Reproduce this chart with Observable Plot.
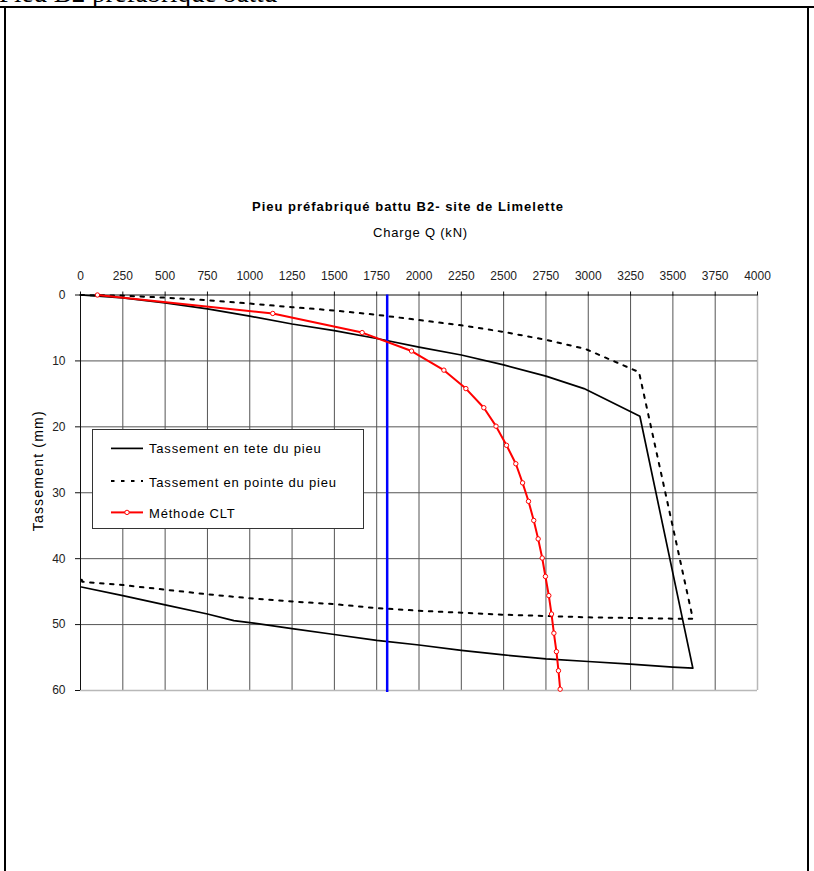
<!DOCTYPE html>
<html><head><meta charset="utf-8">
<script src="https://cdn.jsdelivr.net/npm/d3@7"></script>
<script src="https://cdn.jsdelivr.net/npm/@observablehq/plot@0.6"></script>
<style>
html,body{margin:0;padding:0;background:#fff;}
#page{position:relative;width:814px;height:871px;overflow:hidden;font-family:"Liberation Sans",Arial,sans-serif;}
.border{position:absolute;background:#000;}
#doc-title{position:absolute;left:-1px;top:-20px;font-size:27px;line-height:27px;font-family:"Liberation Serif","Times New Roman",serif;white-space:nowrap;}
#chart{position:absolute;left:0;top:0;}
#legend{position:absolute;left:92px;top:429px;width:272px;height:100px;box-sizing:border-box;border:1px solid #333;background:#fff;}
</style></head><body>
<div id="page">
 <div id="doc-title">Pieu B2 préfabriqué battu</div>
 <div id="chart"></div>
 <div class="border" style="left:0;top:6px;width:814px;height:2px"></div>
 <div class="border" style="left:4px;top:6px;width:2px;height:865px"></div>
 <div class="border" style="left:807px;top:6px;width:2px;height:865px"></div>
 <div id="legend"></div>
</div>
<script>
const chartTitle = "Pieu préfabriqué battu B2- site de Limelette";
const xLabel = "Charge Q (kN)";
const yLabel = "Tassement (mm)";
const seriesNames = ["Tassement en tete du pieu", "Tassement en pointe du pieu", "Méthode CLT"];

const xTicks = [0,250,500,750,1000,1250,1500,1750,2000,2250,2500,2750,3000,3250,3500,3750,4000];
const yTicks = [0,10,20,30,40,50,60];

// Tassement en tete du pieu (load then unload)
const headLoad =   [0,250,500,750,1000,1250,1500,1750,2000,2250,2500,2750,2975,3305,3618,3500,3250,3000,2750,2500,2250,2000,1750,1500,1250,1000,906,750,500,250,5];
const headSettle = [0,0.45,1.2,2.1,3.2,4.4,5.4,6.6,7.9,9.1,10.6,12.3,14.2,18.4,56.6,56.45,56.0,55.6,55.2,54.6,53.9,53.1,52.4,51.5,50.6,49.7,49.4,48.4,47.0,45.6,44.3];

// Tassement en pointe du pieu (load then unload)
const tipLoad =   [0,250,500,750,1000,1250,1500,1750,2000,2250,2500,2750,2985,3300,3618,3500,3250,3000,2750,2500,2250,2000,1750,1500,1250,1000,750,500,250,10,5];
const tipSettle = [0,0.1,0.4,0.8,1.3,1.85,2.35,3.0,3.8,4.6,5.6,6.8,8.2,11.7,49.1,49.1,49.0,48.9,48.7,48.5,48.2,47.9,47.5,46.9,46.5,46.0,45.4,44.7,44.0,43.5,42.9];

// Méthode CLT
const cltLoad =   [100,1136,1664,1956,2147,2277,2383,2455,2517,2572,2612,2647,2678,2704,2728,2747,2767,2783,2797,2812,2824,2834];
const cltSettle = [0,2.8,5.7,8.5,11.4,14.2,17.1,19.9,22.8,25.6,28.5,31.3,34.2,37.0,39.9,42.7,45.6,48.4,51.3,54.1,57.0,59.8];

// Charge limite (vertical blue line)
const limitLoad = [1812];

const head = headLoad.map((q, i) => ({q, s: headSettle[i]}));
const tip = tipLoad.map((q, i) => ({q, s: tipSettle[i]}));
const clt = cltLoad.map((q, i) => ({q, s: cltSettle[i]}));

const plot = Plot.plot({
  width: 814, height: 871,
  marginLeft: 80, marginRight: 57, marginTop: 294.5, marginBottom: 181,
  style: {fontFamily: '"Liberation Sans", Arial, sans-serif', fontSize: "12px", color: "#222", background: "transparent", overflow: "visible"},
  x: {domain: [0, 4000], axis: null},
  y: {domain: [0, 60], reverse: true, axis: null},
  marks: [
    Plot.ruleX(xTicks.filter(d => d > 0 && d < 4000), {stroke: "#555", strokeWidth: 1}),
    Plot.ruleX([xTicks[xTicks.length - 1]], {stroke: "#b8b8b8", strokeWidth: 1.5}),
    Plot.ruleY(yTicks.filter(d => d > 0 && d < 60), {stroke: "#555", strokeWidth: 1}),
    Plot.ruleY([yTicks[yTicks.length - 1]], {stroke: "#b8b8b8", strokeWidth: 1.5}),
    Plot.ruleX([0], {stroke: "#111", strokeWidth: 1}),
    Plot.ruleY([0], {stroke: "#111", strokeWidth: 1}),
    Plot.axisX({anchor: "top", ticks: xTicks, tickSize: 4, tickPadding: 11.5, tickFormat: d => String(d), label: null, stroke: "#111", fontSize: 12, fill: "#222"}),
    Plot.axisY({anchor: "left", ticks: yTicks, tickSize: 5, tickPadding: 10, tickFormat: d => String(d), label: null, stroke: "#111", fontSize: 12, fill: "#222"}),
    Plot.line(tip, {x: "q", y: "s", stroke: "#000", strokeWidth: 2, strokeDasharray: "3.5,6.5"}),
    Plot.line(head, {x: "q", y: "s", stroke: "#000", strokeWidth: 1.7}),
    Plot.ruleX(limitLoad, {y1: 0, y2: 60.3, stroke: "#0000ff", strokeWidth: 2.5}),
    Plot.line(clt, {x: "q", y: "s", stroke: "#ff0000", strokeWidth: 2}),
    Plot.dot(clt, {x: "q", y: "s", r: 2.2, fill: "#fff", stroke: "#ff0000", strokeWidth: 1}),
    Plot.text([chartTitle], {frameAnchor: "top", dx: -11, dy: -84.5, lineAnchor: "bottom", fontWeight: "bold", fontSize: 13, fill: "#000"}),
    Plot.text([xLabel], {frameAnchor: "top", dx: 1.5, dy: -57.8, lineAnchor: "bottom", fontSize: 13, fill: "#000"}),
    Plot.text([yLabel], {frameAnchor: "left", dx: -38, dy: -22, rotate: -90, textAnchor: "middle", lineAnchor: "bottom", fontSize: 14, fill: "#000"})
  ]
});
document.getElementById("chart").appendChild(plot);
d3.select(plot).selectAll('g[aria-label="text"] text').style("letter-spacing", "0.8px");
d3.select(plot).selectAll('g[aria-label="text"] text').filter(function() { return this.textContent === chartTitle; }).style("letter-spacing", "1px");
d3.select(plot).selectAll('g[aria-label="text"] text').filter(function() { return this.textContent === yLabel; }).style("letter-spacing", "1.2px");

// Legend
const rows = [
  {name: seriesNames[0], ly: 18.4, ty: 23.4, dash: null, color: "#000", w: 1.7, dot: false},
  {name: seriesNames[1], ly: 51, ty: 56.5, dash: "3.5,6.5", color: "#000", w: 2, dot: false},
  {name: seriesNames[2], ly: 82.4, ty: 88, dash: null, color: "#ff0000", w: 2, dot: true}
];
const lg = d3.select("#legend").append("svg").attr("width", 270).attr("height", 98).style("position", "absolute").style("left", "0").style("top", "0");
rows.forEach(r => {
  const ln = lg.append("line").attr("x1", 18).attr("x2", 50).attr("y1", r.ly).attr("y2", r.ly).attr("stroke", r.color).attr("stroke-width", r.w);
  if (r.dash) ln.attr("stroke-dasharray", r.dash);
  if (r.dot) lg.append("circle").attr("cx", 34).attr("cy", r.ly).attr("r", 2.2).attr("fill", "#fff").attr("stroke", r.color);
  lg.append("text").attr("x", 56).attr("y", r.ty).attr("font-size", 13).attr("font-family", '"Liberation Sans", Arial, sans-serif').style("letter-spacing", "0.8px").attr("fill", "#000").text(r.name);
});
</script>
</body></html>
